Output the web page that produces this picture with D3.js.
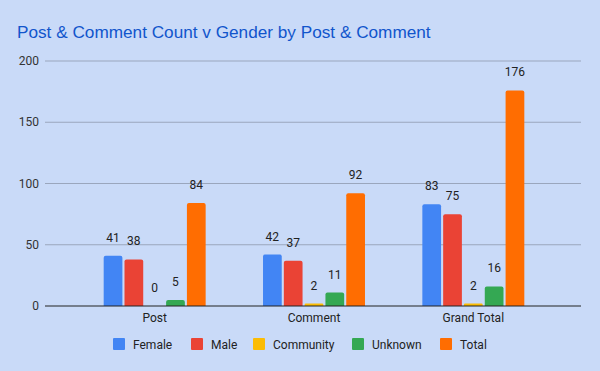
<!DOCTYPE html>
<html>
<head>
<meta charset="utf-8">
<script src="https://cdn.jsdelivr.net/npm/d3@7"></script>
<style>
  body { margin: 0; background: #c9daf8; }
  svg { display: block; font-family: Roboto, "Liberation Sans", Arial, sans-serif; }
</style>
</head>
<body>
<svg id="chart" width="600" height="371"></svg>
<script>
// chart values
const categories = ["Post", "Comment", "Grand Total"];
const series = ["Female", "Male", "Community", "Unknown", "Total"];
const female = [41, 42, 83];
const male = [38, 37, 75];
const community = [0, 2, 2];
const unknown = [5, 11, 16];
const total = [84, 92, 176];
const yTicks = [0, 50, 100, 150, 200];

const values = [female, male, community, unknown, total];
const colors = ["#4285f4", "#ea4335", "#fbbc04", "#34a853", "#ff6d01"];

const svg = d3.select("#chart");

// background
svg.append("rect").attr("width", 600).attr("height", 371).attr("fill", "#c9daf8");

// title
svg.append("text")
  .attr("x", 17)
  .attr("y", 38)
  .attr("fill", "#1155cc")
  .style("font-family", "'Liberation Sans', Arial, sans-serif")
  .style("font-size", "17.2px")
  .text("Post & Comment Count v Gender by Post & Comment");

// scales
const y = d3.scaleLinear().domain([0, 200]).range([306, 61]);
const x0 = d3.scaleBand().domain(categories).range([75, 553]).paddingInner(0.36).paddingOuter(0.18);
const x1 = d3.scaleBand().domain(series).range([0, x0.bandwidth()]).paddingInner(0.1);

// grid lines
svg.append("g")
  .selectAll("line")
  .data(yTicks.filter((d) => d !== 0))
  .join("line")
  .attr("x1", 45)
  .attr("x2", 581)
  .attr("y1", (d) => y(d))
  .attr("y2", (d) => y(d))
  .attr("stroke", "#9aa6bd")
  .attr("stroke-width", 1);

// y tick labels
svg.append("g")
  .selectAll("text")
  .data(yTicks)
  .join("text")
  .attr("x", 39)
  .attr("y", (d) => y(d) + 4)
  .attr("text-anchor", "end")
  .attr("fill", "#333")
  .style("font-size", "12px")
  .text((d) => d);

// bars with rounded tops
function barPath(x, top, w, bottom) {
  const r = Math.min(2, (bottom - top) / 2, w / 2);
  if (bottom - top <= 0) return "";
  return `M${x},${bottom}V${top + r}Q${x},${top} ${x + r},${top}H${x + w - r}Q${x + w},${top} ${x + w},${top + r}V${bottom}Z`;
}

const groups = svg.append("g")
  .selectAll("g")
  .data(categories)
  .join("g")
  .attr("transform", (d) => `translate(${x0(d)},0)`);

groups.selectAll("path")
  .data((c, i) => series.map((s, j) => ({ s, j, v: values[j][i] })))
  .join("path")
  .attr("fill", (d) => colors[d.j])
  .attr("d", (d) => barPath(x1(d.s), y(d.v), x1.bandwidth(), y(0)));

// value labels
groups.selectAll("text")
  .data((c, i) => series.map((s, j) => ({ s, j, v: values[j][i] })))
  .join("text")
  .attr("x", (d) => x1(d.s) + x1.bandwidth() / 2)
  .attr("y", (d) => y(d.v) - 14)
  .attr("text-anchor", "middle")
  .attr("fill", "#222")
  .style("font-size", "12px")
  .text((d) => d.v);

// baseline
svg.append("line")
  .attr("x1", 45)
  .attr("x2", 581)
  .attr("y1", y(0))
  .attr("y2", y(0))
  .attr("stroke", "#222")
  .attr("stroke-width", 1.2);

// category labels
svg.append("g")
  .selectAll("text")
  .data(categories)
  .join("text")
  .attr("x", (d) => x0(d) + x0.bandwidth() / 2)
  .attr("y", 322)
  .attr("text-anchor", "middle")
  .attr("fill", "#222")
  .style("font-size", "12px")
  .text((d) => d);

// legend
const legendX = [113, 191, 253, 352, 440];
const legend = svg.append("g")
  .selectAll("g")
  .data(series)
  .join("g")
  .attr("transform", (d, i) => `translate(${legendX[i]},338)`);

legend.append("rect")
  .attr("width", 12)
  .attr("height", 12)
  .attr("rx", 1)
  .attr("fill", (d, i) => colors[i]);

legend.append("text")
  .attr("x", 20)
  .attr("y", 10.5)
  .attr("fill", "#222")
  .style("font-size", "12px")
  .text((d) => d);
</script>
</body>
</html>
